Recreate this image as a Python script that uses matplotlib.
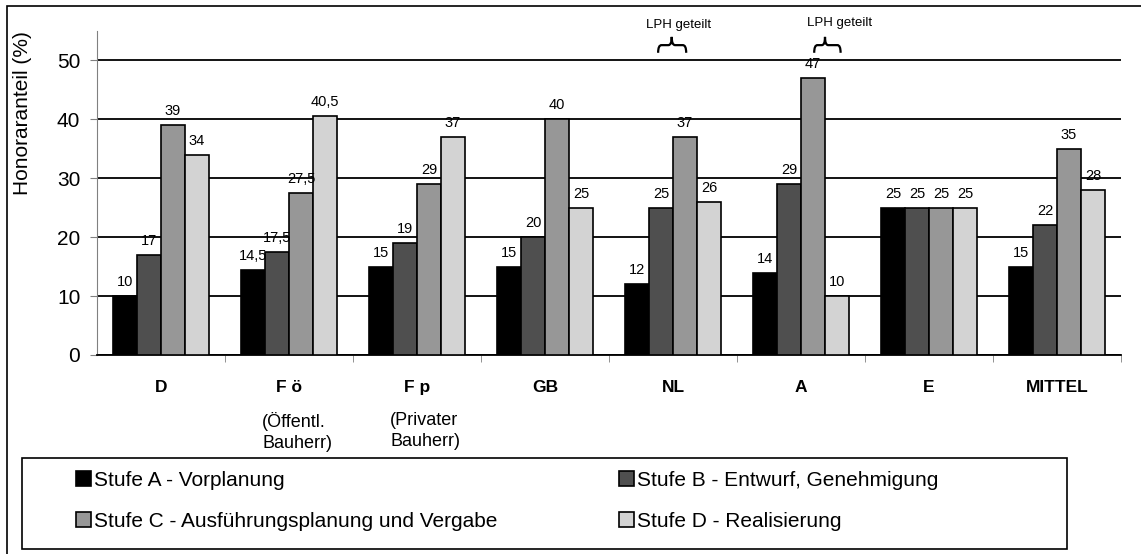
import matplotlib
matplotlib.use('Agg')
import matplotlib.pyplot as plt
from matplotlib.patches import Rectangle, PathPatch
from matplotlib.path import Path
import numpy as np

# Data
laender = ['D', 'F ö', 'F p', 'GB', 'NL', 'A', 'E', 'MITTEL']
unterzeilen = ['', '(Öffentl.\nBauherr)', '(Privater\nBauherr)', '', '', '', '', '']
stufe_a = [10, 14.5, 15, 15, 12, 14, 25, 15]
stufe_b = [17, 17.5, 19, 20, 25, 29, 25, 22]
stufe_c = [39, 27.5, 29, 40, 37, 47, 25, 35]
stufe_d = [34, 40.5, 37, 25, 26, 10, 25, 28]
serien_namen = ['Stufe A - Vorplanung', 'Stufe B - Entwurf, Genehmigung',
                'Stufe C - Ausführungsplanung und Vergabe', 'Stufe D - Realisierung']
farben = ['#000000', '#4f4f4f', '#979797', '#d3d3d3']

plt.rcParams['font.family'] = ['Liberation Sans', 'DejaVu Sans']

W, H = 1141, 554
fig = plt.figure(figsize=(W / 100, H / 100), dpi=100)
ax = fig.add_axes([97 / W, 1 - 355 / H, 1024 / W, 324 / H])

x = np.arange(len(laender))
bw = 0.1875
serien = [stufe_a, stufe_b, stufe_c, stufe_d]
handles = []
for k, (werte, farbe, name) in enumerate(zip(serien, farben, serien_namen)):
    pos = x + (k - 1.5) * bw
    b = ax.bar(pos, werte, width=bw, color=farbe, edgecolor='black', linewidth=1.2,
               label=name, zorder=3)
    handles.append(b)
    for px_, v in zip(pos, werte):
        txt = ('%g' % v).replace('.', ',')
        ax.annotate(txt, (px_, v), xytext=(0, 5), textcoords='offset points',
                    ha='center', va='bottom', fontsize=10.5, zorder=4)

ax.set_xlim(-0.5, len(laender) - 0.5)
ax.set_ylim(0, 55)
ax.set_yticks([0, 10, 20, 30, 40, 50])
ax.grid(axis='y', color='black', linewidth=1.3, zorder=1)
ax.tick_params(axis='y', length=5, color='#808080', labelsize=15, pad=7)
ax.spines['top'].set_visible(False)
ax.spines['right'].set_visible(False)
ax.spines['left'].set_color('#808080')
ax.spines['bottom'].set_color('black')
ax.spines['bottom'].set_linewidth(1.3)

ax.set_xticks(x)
ax.set_xticklabels(laender, fontweight='bold', fontsize=12.5)
ax.tick_params(axis='x', which='major', length=0, pad=18)
ax.set_xticks(np.arange(0.5, len(laender) - 0.5, 1).tolist() + [len(laender) - 0.5], minor=True)
ax.tick_params(axis='x', which='minor', length=5, color='#808080')

for i, t in enumerate(unterzeilen):
    if t:
        ax.annotate(t, (i, 0), xycoords=('data', 'axes fraction'), xytext=(6, -41),
                    textcoords='offset points', ha='center', va='top', fontsize=13,
                    multialignment='left', linespacing=1.3)

ax.set_ylabel('Honoraranteil (%)', fontsize=15)
ax.yaxis.set_label_coords(-0.0635, 0.748)


# curly brace above two bars
def klammer(ax, x0, x1, xc, yb=51.3, ym=52.6, yt=54.0):
    d = (x1 - x0) * 0.12
    verts = [(x0, yb), (x0, ym), (x0 + d, ym),
             (xc - d, ym), (xc, ym), (xc, yt),
             (xc, ym), (xc + d, ym),
             (x1 - d, ym), (x1, ym), (x1, yb)]
    codes = [Path.MOVETO, Path.CURVE3, Path.CURVE3,
             Path.LINETO, Path.CURVE3, Path.CURVE3,
             Path.CURVE3, Path.CURVE3,
             Path.LINETO, Path.CURVE3, Path.CURVE3]
    ax.add_patch(PathPatch(Path(verts, codes), fill=False, lw=1.6, clip_on=False, zorder=5))


klammer(ax, 4 - 0.62 * bw, 4 + 0.55 * bw, 4 - 0.01)
ax.text(4 + 0.04, 56.0, 'LPH geteilt', ha='center', va='center', fontsize=9.5, clip_on=False)
klammer(ax, 5 + 0.55 * bw, 5 + 1.65 * bw, 5 + 1.0 * bw)
ax.text(5 + 1.6 * bw, 56.3, 'LPH geteilt', ha='center', va='center', fontsize=9.5, clip_on=False)

# outer frame
fig.add_artist(Rectangle((7 / W, -0.1), 1.2, (1 - 6 / H) + 0.1, fill=False,
                         transform=fig.transFigure, lw=1.2, edgecolor='black'))
# legend frame
fig.add_artist(Rectangle((22 / W, 1 - 549 / H), 1045 / W, 91 / H, fill=False,
                         transform=fig.transFigure, lw=1.2, edgecolor='black'))

leg_kw = dict(frameon=False, fontsize=15, handlelength=0.72, handleheight=0.7,
              handletextpad=0.15, labelspacing=1.05, borderpad=0, borderaxespad=0,
              loc='center left')
leg1 = fig.legend([handles[0], handles[2]], [serien_namen[0], serien_namen[2]],
                  bbox_to_anchor=(76 / W, 1 - 501 / H), **leg_kw)
leg2 = fig.legend([handles[1], handles[3]], [serien_namen[1], serien_namen[3]],
                  bbox_to_anchor=(619 / W, 1 - 501 / H), **leg_kw)

fig.savefig('out.png', dpi=100)
